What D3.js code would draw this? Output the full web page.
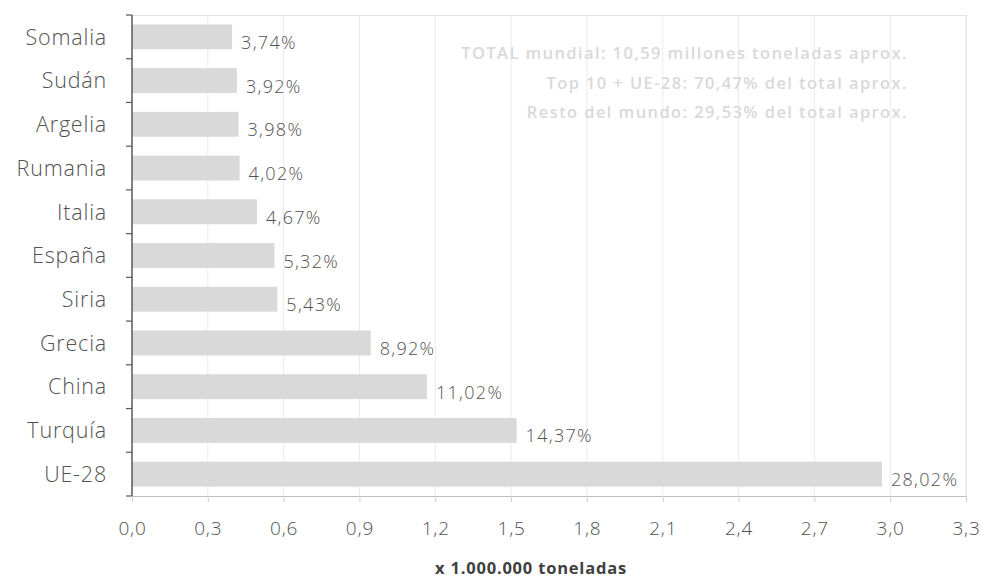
<!DOCTYPE html>
<html>
<head>
<meta charset="utf-8">
<script src="https://cdn.jsdelivr.net/npm/d3@7"></script>
<style>
  html, body { margin: 0; padding: 0; background: #fff; }
  svg { display: block; font-family: "Open Sans", "Lato", sans-serif; }
</style>
</head>
<body>
<svg id="chart" width="981" height="578"></svg>
<script>
// Producers, top to bottom
const categories = ["Somalia", "Sudán", "Argelia", "Rumania", "Italia", "España", "Siria", "Grecia", "China", "Turquía", "UE-28"];
// Share of world total (%)
const shares = [3.74, 3.92, 3.98, 4.02, 4.67, 5.32, 5.43, 8.92, 11.02, 14.37, 28.02];
// World total, millions of tonnes
const worldTotal = 10.59;
const xTicks = [0, 0.3, 0.6, 0.9, 1.2, 1.5, 1.8, 2.1, 2.4, 2.7, 3.0, 3.3];
const notes = [
  "TOTAL mundial: 10,59 millones toneladas aprox.",
  "Top 10 + UE-28: 70,47% del total aprox.",
  "Resto del mundo: 29,53% del total aprox."
];
const axisTitle = "x 1.000.000 toneladas";

const data = categories.map((c, i) => ({ name: c, pct: shares[i], value: shares[i] * worldTotal / 100 }));

const svg = d3.select("#chart");
const m = { left: 132, right: 966, top: 15, bottom: 496 };

const x = d3.scaleLinear().domain([0, 3.3]).range([m.left, m.right]);
const y = d3.scaleBand().domain(categories).range([m.top, m.bottom])
  .paddingInner(0.43).paddingOuter(0.215);

const comma = v => d3.format(".1f")(v).replace(".", ",");
const textColor = "#525252";

// Vertical gridlines
svg.append("g").selectAll("line").data(xTicks.slice(1)).join("line")
  .attr("x1", d => x(d)).attr("x2", d => x(d))
  .attr("y1", m.top).attr("y2", m.bottom)
  .attr("stroke", "#ebebeb").attr("stroke-width", 1);

// Top border
svg.append("line")
  .attr("x1", m.left).attr("x2", m.right).attr("y1", m.top + 0.5).attr("y2", m.top + 0.5)
  .attr("stroke", "#e3e3e3");

// Notes
svg.append("g").selectAll("text").data(notes).join("text")
  .attr("x", 908).attr("y", (d, i) => 59 + i * 29.5)
  .attr("text-anchor", "end")
  .attr("font-size", 16.5).attr("font-weight", 600)
  .attr("letter-spacing", 1.4)
  .attr("fill", "#d9d9d9")
  .text(d => d);

// Bars
svg.append("g").selectAll("rect").data(data).join("rect")
  .attr("x", x(0)).attr("y", d => y(d.name))
  .attr("width", d => x(d.value) - x(0))
  .attr("height", y.bandwidth())
  .attr("fill", "#d9d9d9");

// Value labels
svg.append("g").selectAll("text").data(data).join("text")
  .attr("x", d => x(d.value) + 9)
  .attr("y", d => y(d.name) + y.bandwidth() / 2 + 12)
  .attr("font-size", 18).attr("font-weight", 300).attr("letter-spacing", 1.3).attr("fill", textColor)
  .text(d => d.pct.toFixed(2).replace(".", ",") + "%");

// X axis
const xAxis = svg.append("g").attr("transform", `translate(0,${m.bottom})`)
  .call(d3.axisBottom(x).tickValues(xTicks).tickFormat(comma).tickSize(6).tickSizeOuter(0));
xAxis.select(".domain").attr("stroke", "#bfbfbf");
xAxis.selectAll(".tick line").attr("stroke", "#d0d0d0");
xAxis.selectAll(".tick text")
  .attr("font-size", 19).attr("font-weight", 300).attr("fill", textColor)
  .attr("font-family", "Open Sans, Lato, sans-serif")
  .attr("letter-spacing", 0.8)
  .attr("y", 39).attr("dy", 0);

// Right border
svg.append("line")
  .attr("x1", m.right + 0.5).attr("x2", m.right + 0.5).attr("y1", m.top).attr("y2", m.bottom)
  .attr("stroke", "#e3e3e3");

// Y axis: line with ticks at band boundaries
const step = y.step();
const bounds = d3.range(categories.length + 1).map(i => m.top + i * step);
svg.append("line")
  .attr("x1", m.left).attr("x2", m.left).attr("y1", m.top).attr("y2", m.bottom)
  .attr("stroke", "#595959").attr("stroke-width", 1.5);
svg.append("g").selectAll("line").data(bounds).join("line")
  .attr("x1", m.left - 6).attr("x2", m.left)
  .attr("y1", d => d).attr("y2", d => d)
  .attr("stroke", "#595959").attr("stroke-width", 1.2);

// Category labels
svg.append("g").selectAll("text").data(categories).join("text")
  .attr("x", 107).attr("y", d => y(d) + y.bandwidth() / 2)
  .attr("dy", "0.36em")
  .attr("text-anchor", "end")
  .attr("font-size", 21.5).attr("font-weight", 300).attr("letter-spacing", 0.8).attr("fill", textColor)
  .text(d => d);

// Axis title
svg.append("text")
  .attr("x", 531).attr("y", 574)
  .attr("text-anchor", "middle")
  .attr("font-size", 16.5).attr("font-weight", 700).attr("letter-spacing", 0.8)
  .attr("fill", "#404040")
  .text(axisTitle);
</script>
</body>
</html>
